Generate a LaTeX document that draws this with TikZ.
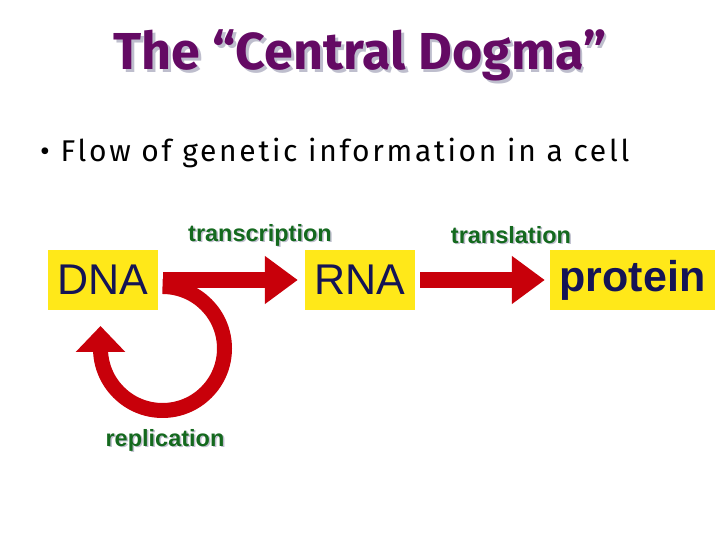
\documentclass[tikz,border=0pt]{standalone}
\usepackage{fontspec}
\setmainfont{Fira Sans}
\newfontfamily\arialfont{Liberation Sans}
\usepackage{tikz}
\usetikzlibrary{arrows.meta, positioning}
\definecolor{DGpurple}{RGB}{100,10,100}
\definecolor{DGshadow}{RGB}{190,190,205}
\definecolor{DGgreen}{RGB}{20,105,30}
\definecolor{DGnavy}{RGB}{20,20,85}
\definecolor{DGyellow}{RGB}{255,232,25}
\definecolor{DGred}{RGB}{200,0,10}
\begin{document}
\begin{tikzpicture}[x=1pt, y=1pt,
    molbox/.style={fill=DGyellow, text=DGnavy, minimum height=60pt, inner sep=0pt,
      font=\arialfont\fontsize{43}{48}\selectfont},
    proclabel/.style={text=DGgreen, font=\arialfont\bfseries\fontsize{23.5}{26}\selectfont},
    procshadow/.style={text=DGshadow, font=\arialfont\bfseries\fontsize{23.5}{26}\selectfont},
    titlefont/.style={font=\bfseries\fontsize{52}{56}\selectfont},
    bigarrow/.style={DGred, line width=16pt, -{Triangle[length=33pt, width=46pt]}}]
    \useasboundingbox (0,0) rectangle (720,540);
    % Title with shadow
    \node[DGshadow, titlefont] at (362.5,482) {The “Central Dogma”};
    \node[DGpurple, titlefont] (title) at (360,484.5) {The “Central Dogma”};
    % Bullet
    \node[anchor=base west, font=\fontsize{30}{34}\selectfont\addfontfeature{LetterSpace=9}, inner sep=0pt] (bullet) at (40,378)
      {\textbullet\ Flow of genetic information in a cell};
    % Molecules
    \node[molbox, minimum width=110pt] (dna) at (103,260) {DNA};
    \node[molbox, minimum width=110pt] (rna) at (360,260) {RNA};
    \node[molbox, minimum width=165pt, font=\arialfont\bfseries\fontsize{43}{48}\selectfont] (protein) at (632.5,260) {protein};
    % Process labels
    \node[procshadow] at (261.5,303.5) {transcription};
    \node[proclabel] (transcr) at (260,305) {transcription};
    \node[procshadow] at (512.5,303.5) {translation};
    \node[proclabel] (transl) at (511,305) {translation};
    % Arrows
    \draw[bigarrow] ([xshift=5pt]dna.east) -- ([xshift=-7pt]rna.west);
    \draw[bigarrow] ([xshift=5pt]rna.east) -- ([xshift=-5pt]protein.west);
    % Replication loop
    \coordinate (loopstart) at (162.5,253.5);
    \coordinate (looptip) at (100.5,214);
    \draw[DGred, line width=15pt, -{Triangle[length=26pt, width=48pt]}]
      (loopstart) arc[start angle=90, end angle=-180, radius=62] -- (looptip);
    \node[procshadow] at (166.5,98.5) {replication};
    \node[proclabel] (repl) at (165,100) {replication};
  \end{tikzpicture}
\end{document}
